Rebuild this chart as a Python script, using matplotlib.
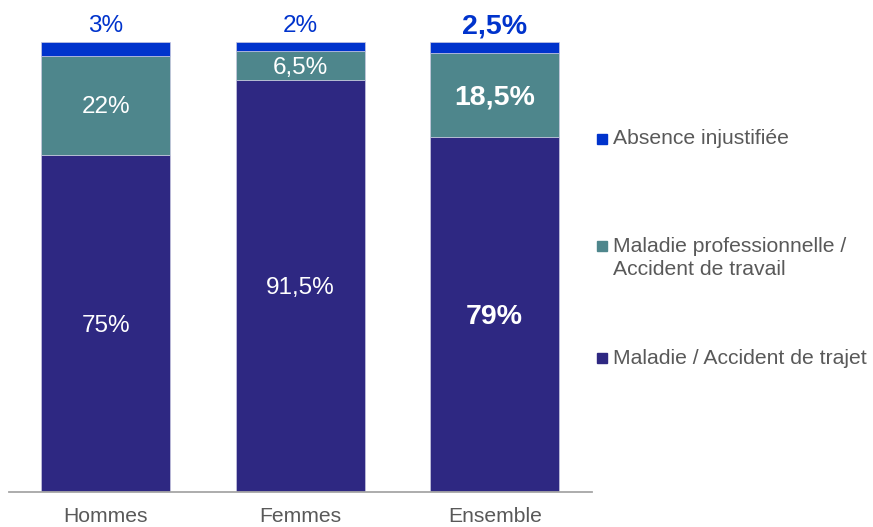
import matplotlib
matplotlib.use("Agg")
import matplotlib.pyplot as plt
from matplotlib.patches import Rectangle

plt.rcParams['font.family'] = ['Liberation Sans', 'DejaVu Sans']

# data
groupes = ['Hommes', 'Femmes', 'Ensemble']
maladie_trajet = [75, 91.5, 79]
maladie_pro = [22, 6.5, 18.5]
absence = [3, 2, 2.5]
lab_trajet = ['75%', '91,5%', '79%']
lab_pro = ['22%', '6,5%', '18,5%']
lab_absence = ['3%', '2%', '2,5%']
series_noms = ['Absence injustifiée',
               'Maladie professionnelle /\nAccident de travail',
               'Maladie / Accident de trajet']

c_trajet = '#2E2882'
c_pro = '#4E868C'
c_abs = '#0033CC'
gris = '#595959'

fig = plt.figure(figsize=(8.73, 5.27), dpi=100)
ax = fig.add_axes([8.5 / 873, 35 / 527, (592 - 8.5) / 873, (492 - 42) / 527])

x = list(range(len(groupes)))
w = 0.664
b1 = ax.bar(x, maladie_trajet, w, color=c_trajet, edgecolor='#C8C8E0', linewidth=0.5)
bot2 = maladie_trajet
b2 = ax.bar(x, maladie_pro, w, bottom=bot2, color=c_pro, edgecolor='#C8C8E0', linewidth=0.5)
bot3 = [a + b for a, b in zip(maladie_trajet, maladie_pro)]
b3 = ax.bar(x, absence, w, bottom=bot3, color=c_abs, edgecolor='#C8C8E0', linewidth=0.5)

ax.set_xlim(-0.5, 2.5)
ax.set_ylim(0, 100)
ax.set_yticks([])
ax.set_xticks(x)
ax.set_xticklabels(groupes, fontsize=15.2, color=gris)
ax.tick_params(axis='x', length=0, pad=11)
for s in ['top', 'right', 'left']:
    ax.spines[s].set_visible(False)
ax.spines['bottom'].set_color('#A6A6A6')
ax.spines['bottom'].set_linewidth(1.3)

for i in x:
    gras = (groupes[i] == 'Ensemble')
    fw = 'bold' if gras else 'normal'
    fs = 20.5 if gras else 17.5
    ax.text(i, maladie_trajet[i] / 2 - 0.5, lab_trajet[i], ha='center', va='center',
            color='white', fontsize=fs, fontweight=fw)
    ax.text(i, maladie_trajet[i] + maladie_pro[i] / 2 - 0.5, lab_pro[i], ha='center', va='center',
            color='white', fontsize=fs, fontweight=fw)
    ax.text(i, 103.5, lab_absence[i], ha='center', va='center',
            color=c_abs, fontsize=fs, fontweight=fw, clip_on=False)

# legende manuelle
couleurs = [c_abs, c_pro, c_trajet]
y_leg = [139, 258, 358]
for nom, col, yp in zip(series_noms, couleurs, y_leg):
    yf = 1 - yp / 527
    if '\n' in nom:
        ysq = yf + 12 / 527
    else:
        ysq = yf
    fig.patches.append(Rectangle((597 / 873, ysq - 5 / 527), 9.5 / 873, 10 / 527,
                                 transform=fig.transFigure, color=col, figure=fig))
    fig.text(613 / 873, yf, nom, ha='left', va='center', fontsize=15.2,
             color=gris, linespacing=1.3)

fig.savefig('out.png', dpi=100, facecolor='white')
